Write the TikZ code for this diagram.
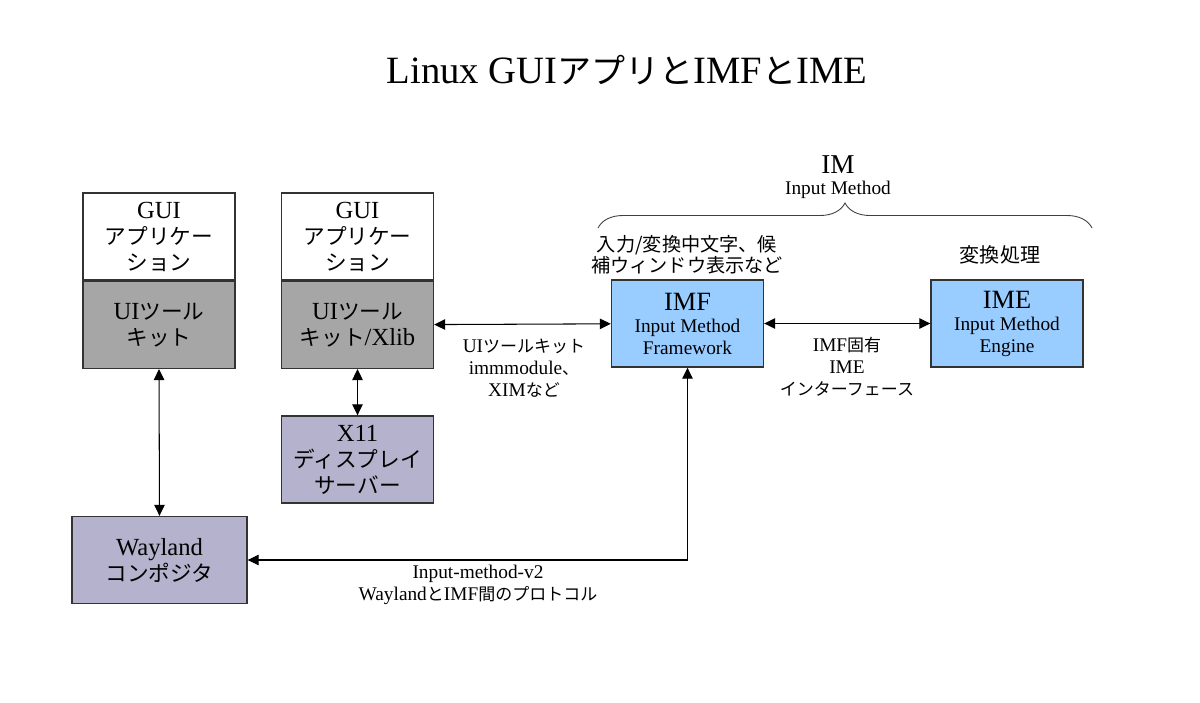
\documentclass[tikz,border=0pt]{standalone}
\usepackage{fontspec}
\setmainfont{Liberation Serif}
\newfontfamily\cjk[Scale=0.88]{Noto Sans CJK JP}
\newcommand{\jp}[1]{{\cjk #1}}
\usetikzlibrary{arrows.meta,decorations.pathreplacing}
\definecolor{kitgray}{RGB}{166,166,166}
\definecolor{srvlav}{RGB}{180,178,204}
\definecolor{imblue}{RGB}{153,204,255}
\tikzset{
  box/.style={draw=black!80,line width=0.8pt,minimum width=3.04cm,minimum height=1.74cm,
    inner sep=0pt,align=center,font=\fontsize{14}{14.8}\selectfont},
  appbox/.style={box,fill=white},
  kitbox/.style={box,fill=kitgray},
  srvbox/.style={box,fill=srvlav},
  imbox/.style={box,fill=imblue,font=\fontsize{11}{12.5}\selectfont},
  lbl/.style={align=center,inner sep=1pt,font=\fontsize{11}{12.5}\selectfont},
  task/.style={align=center,inner sep=1pt,font=\fontsize{12.4}{12}\selectfont},
  link/.style={line width=0.6pt,{Triangle[length=2.2mm,width=2.1mm]}-{Triangle[length=2.2mm,width=2.1mm]}},
}
\begin{document}
\begin{tikzpicture}[x=0.02cm,y=-0.02cm]
\fill[white] (0,0) rectangle (1200,703);
\useasboundingbox (0,0) rectangle (1200,703);
\node[font=\fontsize{22}{24}\selectfont] (title) at (627,70) {Linux GUI\jp{アプリと}IMF\jp{と}IME};
% applications and toolkits
\node[appbox] (appA) at (159,236.5) {GUI\\\jp{アプリケー}\\\jp{ション}};
\node[kitbox,anchor=north] (kitA) at (appA.south) {UI\jp{ツール}\\\jp{キット}};
\node[appbox] (appB) at (357.5,236.5) {GUI\\\jp{アプリケー}\\\jp{ション}};
\node[kitbox,anchor=north] (kitB) at (appB.south) {UI\jp{ツール}\\\jp{キット}/Xlib};
\node[srvbox] (x11) at (357.5,459.5) {X11\\\jp{ディスプレイ}\\\jp{サーバー}};
\node[srvbox,minimum width=3.5cm] (wayland) at (159.5,560) {Wayland\\\jp{コンポジタ}};
% input method
\node[imbox] (imf) at (687.5,323.5) {{\fontsize{15}{17}\selectfont IMF}\\Input Method\\Framework};
\node[imbox] (ime) at (1007,323.5) {{\fontsize{15}{17}\selectfont IME}\\Input Method\\Engine};
\node[task] (imftask) at (687,255) {\jp{入力/変換中文字、候}\\\jp{補ウィンドウ表示など}};
\node[task,font=\fontsize{13}{13}\selectfont] (imetask) at (1000,255) {\jp{変換処理}};
\coordinate (braceL) at (598,228);
\coordinate (braceR) at (1092,228);
\draw[decorate,decoration={brace,amplitude=0.5cm},line width=0.5pt,draw=black!75] (braceL) -- (braceR);
\node[font=\fontsize{15.5}{17}\selectfont] (imname) at (838,165) {IM};
\node[font=\fontsize{11}{12}\selectfont] (imfull) at (838,190) {Input Method};
% connectors
\draw[link] (kitA.south) -- (wayland.north);
\draw[link] (kitB) -- (x11);
\draw[link] (kitB) -- (imf);
\draw[link] (imf) -- (ime);
\draw[link] (imf.south) |- (wayland.east);
\node[lbl] (kitlbl) at (524,368) {UI\jp{ツールキット}\\immmodule\jp{、}\\XIM\jp{など}};
\node[lbl] (ifclbl) at (847,367) {IMF\jp{固有}\\IME\\\jp{インターフェース}};
\node[lbl] (wllbl) at (478,585) {Input-method-v2\\Wayland\jp{と}IMF\jp{間のプロトコル}};
\end{tikzpicture}
\end{document}
